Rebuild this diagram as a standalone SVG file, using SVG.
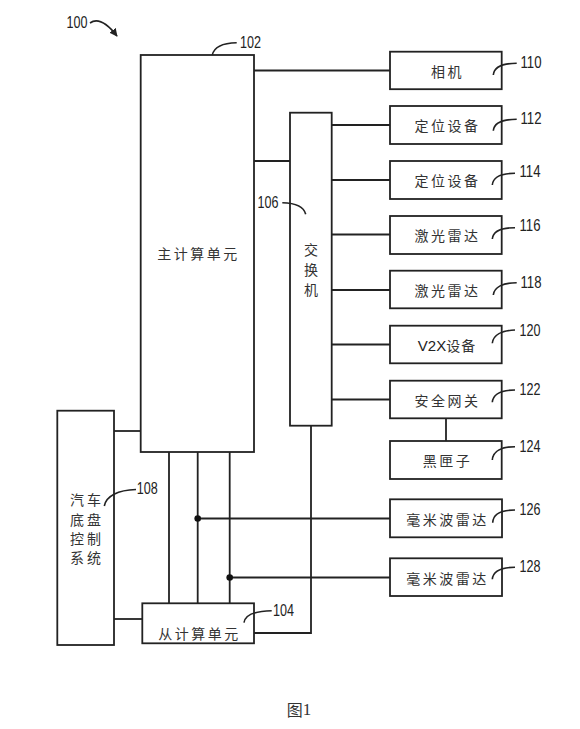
<svg xmlns="http://www.w3.org/2000/svg" width="580" height="729" viewBox="0 0 580 729">
<defs>
<style>
.box{fill:#fff;stroke:#222;stroke-width:1.8}
.ln{fill:none;stroke:#222;stroke-width:1.8}
.ld{fill:none;stroke:#222;stroke-width:1.6}
.cn{font-family:"Noto Sans CJK SC","Noto Sans",sans-serif;font-size:14px;fill:#333;letter-spacing:2.5px;text-anchor:middle;dominant-baseline:central}
.num{font-family:"Liberation Sans",Arial,sans-serif;font-size:16px;fill:#222;dominant-baseline:central}
</style>
<marker id="ah" viewBox="0 0 10 10" refX="9" refY="5" markerWidth="8" markerHeight="8" orient="auto" markerUnits="userSpaceOnUse">
<path d="M0,0 L10,5 L0,10 Z" fill="#222"/>
</marker>
</defs>
<rect width="580" height="729" fill="#fff"/>

<g id="connectors">
<path class="ln" d="M254,70.5 H390"/>
<path class="ln" d="M254,161 H290"/>
<path class="ln" d="M331.7,125 H390 M331.7,180 H390 M331.7,234.5 H390 M331.7,290 H390 M331.7,344.5 H390 M331.7,399.5 H390"/>
<path class="ln" d="M446,418.5 V441"/>
<path class="ln" d="M311,425.7 V633 H254"/>
<path class="ln" d="M169,452 V603 M197.7,452 V603 M229.7,452 V603"/>
<path class="ln" d="M197.7,518.5 H390"/>
<path class="ln" d="M229.7,577.5 H390"/>
<circle cx="197.7" cy="518.5" r="3.3" fill="#111"/>
<circle cx="229.7" cy="577.5" r="3.3" fill="#111"/>
<path class="ln" d="M114,431 H141"/>
<path class="ln" d="M114,619 H142.3"/>
</g>

<g id="label100">
<text class="num" x="66.5" y="22" textLength="21" lengthAdjust="spacingAndGlyphs">100</text>
<path class="ld" d="M90,23 C97,18 106,22 117,36" stroke-width="2" marker-end="url(#ah)"/>
</g>

<g id="n102">
<rect class="box" x="140.7" y="55" width="113.3" height="397"/>
<text class="cn" x="198.5" y="253">主计算单元</text>
<path class="ld" d="M212.3,55 C214,47 222,43 236.7,42.7"/>
<text class="num" x="240" y="42.7" textLength="21" lengthAdjust="spacingAndGlyphs">102</text>
</g>

<g id="n104">
<rect class="box" x="142.3" y="603.3" width="111.7" height="40"/>
<text class="cn" x="199.5" y="633">从计算单元</text>
<path class="ld" d="M244,622.7 C245,614 256,611 271.7,610.7"/>
<text class="num" x="273" y="610.7" textLength="21" lengthAdjust="spacingAndGlyphs">104</text>
</g>

<g id="n106">
<rect class="box" x="290" y="112.7" width="41.7" height="313"/>
<text class="cn" x="312.2" y="249">交</text>
<text class="cn" x="312.2" y="268.5">换</text>
<text class="cn" x="312.2" y="288.5">机</text>
<path class="ld" d="M282.3,202.7 C295,203 304,207 305.7,214.3"/>
<text class="num" x="257.5" y="202" textLength="21" lengthAdjust="spacingAndGlyphs">106</text>
</g>

<g id="n108">
<rect class="box" x="57.3" y="410.7" width="56.7" height="234.3"/>
<text class="cn" x="77" y="499" style="letter-spacing:0">汽</text>
<text class="cn" x="94" y="499" style="letter-spacing:0">车</text>
<text class="cn" x="77" y="518.5" style="letter-spacing:0">底</text>
<text class="cn" x="94" y="518.5" style="letter-spacing:0">盘</text>
<text class="cn" x="77" y="538" style="letter-spacing:0">控</text>
<text class="cn" x="94" y="538" style="letter-spacing:0">制</text>
<text class="cn" x="77" y="557" style="letter-spacing:0">系</text>
<text class="cn" x="94" y="557" style="letter-spacing:0">统</text>
<path class="ld" d="M104.3,506 C106,496 118,490 136,489.5"/>
<text class="num" x="136.7" y="488" textLength="21" lengthAdjust="spacingAndGlyphs">108</text>
</g>

<g id="n110">
<rect class="box" x="390" y="51.7" width="111.7" height="37.5"/>
<text class="cn" x="447.5" y="70.5">相机</text>
<path class="ld" d="M493.3,75 C494,67 503,63.3 516.7,63.3"/>
<text class="num" x="520.5" y="62" textLength="21" lengthAdjust="spacingAndGlyphs">110</text>
</g>

<g id="n112">
<rect class="box" x="390" y="106" width="111.7" height="38"/>
<text class="cn" x="447.5" y="125">定位设备</text>
<path class="ld" d="M493.3,130.7 C494,123 503,119.3 516.7,119.3"/>
<text class="num" x="520.5" y="118.3" textLength="21" lengthAdjust="spacingAndGlyphs">112</text>
</g>

<g id="n114">
<rect class="box" x="390" y="161" width="111.7" height="38"/>
<text class="cn" x="447.5" y="180">定位设备</text>
<path class="ld" d="M492.3,185 C493,177 502,173.3 515,173.3"/>
<text class="num" x="519.5" y="171.7" textLength="21" lengthAdjust="spacingAndGlyphs">114</text>
</g>

<g id="n116">
<rect class="box" x="390" y="216" width="111.7" height="38"/>
<text class="cn" x="447.5" y="234.5">激光雷达</text>
<path class="ld" d="M492.3,239 C493,231 502,227.7 515,227.7"/>
<text class="num" x="519.5" y="225" textLength="21" lengthAdjust="spacingAndGlyphs">116</text>
</g>

<g id="n118">
<rect class="box" x="390" y="270.7" width="111.7" height="37.6"/>
<text class="cn" x="447.5" y="290">激光雷达</text>
<path class="ld" d="M493.3,295 C494,287 503,282.7 516.7,282.7"/>
<text class="num" x="520.5" y="282.7" textLength="21" lengthAdjust="spacingAndGlyphs">118</text>
</g>

<g id="n120">
<rect class="box" x="390" y="325.7" width="111.7" height="37.6"/>
<text class="cn" x="447" y="344.5" style="letter-spacing:1px"><tspan font-family="Liberation Sans,Arial,sans-serif" font-size="15" fill="#222" letter-spacing="0">V2X</tspan>设备</text>
<path class="ld" d="M492.3,343.3 C493,335 502,330.5 515,330"/>
<text class="num" x="519.5" y="330" textLength="21" lengthAdjust="spacingAndGlyphs">120</text>
</g>

<g id="n122">
<rect class="box" x="390" y="380.7" width="111.7" height="37.6"/>
<text class="cn" x="447.5" y="399.5">安全网关</text>
<path class="ld" d="M492.3,402.3 C493,394 502,390 515,390"/>
<text class="num" x="519.5" y="389.3" textLength="21" lengthAdjust="spacingAndGlyphs">122</text>
</g>

<g id="n124">
<rect class="box" x="390" y="441" width="111.7" height="38"/>
<text class="cn" x="447.5" y="460">黑匣子</text>
<path class="ld" d="M492.3,460 C493,451 502,446.7 515,446.7"/>
<text class="num" x="519.5" y="446" textLength="21" lengthAdjust="spacingAndGlyphs">124</text>
</g>

<g id="n126">
<rect class="box" x="390" y="499.3" width="112" height="38"/>
<text class="cn" x="447.5" y="518.5">毫米波雷达</text>
<path class="ld" d="M492.7,522.7 C493,514 502,510 515,510"/>
<text class="num" x="519.5" y="509.3" textLength="21" lengthAdjust="spacingAndGlyphs">126</text>
</g>

<g id="n128">
<rect class="box" x="390" y="558.3" width="112" height="37.7"/>
<text class="cn" x="447.5" y="577.5">毫米波雷达</text>
<path class="ld" d="M492.3,579.3 C493,571 502,567.3 515,567.3"/>
<text class="num" x="519.5" y="566.7" textLength="21" lengthAdjust="spacingAndGlyphs">128</text>
</g>

<text x="299" y="709" font-family="Noto Sans CJK SC,Liberation Serif,serif" font-size="16" fill="#333" text-anchor="middle" dominant-baseline="central">图<tspan font-family="Liberation Serif,serif" font-size="17">1</tspan></text>
</svg>
